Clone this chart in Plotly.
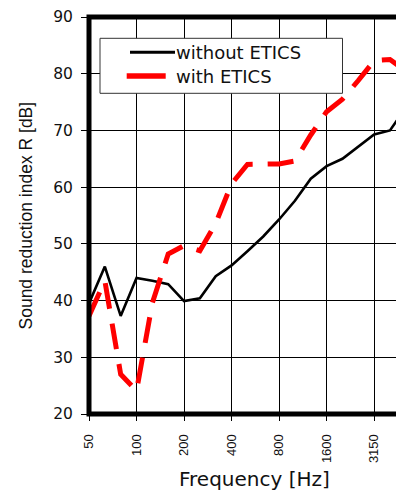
import plotly.graph_objects as go

# third-octave band centre frequencies (Hz)
bands = ["50", "63", "80", "100", "125", "160", "200", "250", "315", "400", "500",
         "630", "800", "1000", "1250", "1600", "2000", "2500", "3150", "4000", "5000"]
tick_labels = ["50", "100", "200", "400", "800", "1600", "3150"]

without_etics = [39.5, 46.0, 37.3, 44.0, 43.5, 42.9, 39.9, 40.4, 44.3, 46.2, 48.7,
                 51.3, 54.3, 57.6, 61.5, 63.7, 65.0, 67.1, 69.3, 70.0, 74.0]
with_etics = [37.3, 43.5, 27.0, 24.1, 39.6, 48.2, 49.7, 48.8, 53.6, 60.6, 64.0,
              64.0, 64.1, 64.6, 69.2, 73.3, 75.5, 78.8, 82.3, 82.5, 80.5]

y_ticks = [20, 30, 40, 50, 60, 70, 80, 90]

W, H = 396, 490
L, R, T, B = 89, 0, 17, 76
PW, PH = W - L - R, H - T - B
band_px = 15.84


def px(x):
    return (x - L) / PW


def py(y):
    return (H - B - y) / PH


fig = go.Figure()
fig.add_trace(go.Scatter(x=bands, y=without_etics, mode="lines", name="without ETICS",
                         line=dict(color="black", width=2.6), showlegend=False))
fig.add_trace(go.Scatter(x=bands, y=with_etics, mode="lines", name="with ETICS",
                         line=dict(color="#ff0000", width=5, dash="26px,15px"),
                         showlegend=False))

shapes = [
    # frame (right side lies outside the picture)
    dict(type="rect", xref="paper", yref="paper", x0=0, x1=1.2, y0=0, y1=1,
         line=dict(color="black", width=5), layer="above"),
    # legend box
    dict(type="rect", xref="paper", yref="paper", x0=px(100), x1=px(342.5),
         y0=py(93.3), y1=py(38.3), line=dict(color="#333333", width=1),
         fillcolor="white", layer="above"),
    dict(type="line", xref="paper", yref="paper", x0=px(130), x1=px(175),
         y0=py(52.3), y1=py(52.3), line=dict(color="black", width=3), layer="above"),
    dict(type="line", xref="paper", yref="paper", x0=px(126.7), x1=px(165.7),
         y0=py(76), y1=py(76), line=dict(color="#ff0000", width=5.5), layer="above"),
]

annotations = [
    dict(text="without ETICS", xref="paper", yref="paper", x=px(174), y=py(52.5),
         xanchor="left", yanchor="middle", showarrow=False,
         font=dict(family="DejaVu Sans", size=18, color="#111111")),
    dict(text="with ETICS", xref="paper", yref="paper", x=px(174), y=py(77),
         xanchor="left", yanchor="middle", showarrow=False,
         font=dict(family="DejaVu Sans", size=18, color="#111111")),
    dict(text="Frequency [Hz]", xref="paper", yref="paper", x=px(254.5), y=py(479),
         xanchor="center", yanchor="middle", showarrow=False,
         font=dict(family="DejaVu Sans", size=20, color="#111111")),
    dict(text="Sound reduction index R [dB]", xref="paper", yref="paper", x=px(25),
         y=py(215.5), xanchor="center", yanchor="middle", textangle=-90, showarrow=False,
         font=dict(family="Liberation Sans, Arial, sans-serif", size=17.5, color="#111111")),
]

fig.update_layout(
    width=W, height=H,
    margin=dict(l=L, r=R, t=T, b=B, pad=0),
    paper_bgcolor="white", plot_bgcolor="white",
    showlegend=False,
    shapes=shapes,
    annotations=annotations,
    xaxis=dict(type="category", categoryorder="array", categoryarray=bands,
               range=[0, PW / band_px], tickvals=tick_labels, ticktext=tick_labels,
               tickangle=-90, ticks="outside", ticklen=6, tickwidth=1, tickcolor="black",
               ticklabelstandoff=8,
               showgrid=True, gridcolor="black", gridwidth=1, zeroline=False,
               showline=False, fixedrange=True,
               tickfont=dict(family="Liberation Sans, Arial, sans-serif", size=13,
                             color="#111111")),
    yaxis=dict(range=[20, 90], tickvals=y_ticks, ticktext=[str(v) for v in y_ticks],
               ticks="outside", ticklen=7, tickwidth=1, tickcolor="black",
               ticklabelstandoff=5,
               showgrid=True, gridcolor="black", gridwidth=1, zeroline=False,
               showline=False, fixedrange=True,
               tickfont=dict(family="DejaVu Sans", size=15.5, color="#111111")),
)

fig.write_html(
    "out.html",
    config={"displayModeBar": False, "staticPlot": True},
    post_script="document.body.style.margin='0';document.body.style.overflow='hidden';",
)
